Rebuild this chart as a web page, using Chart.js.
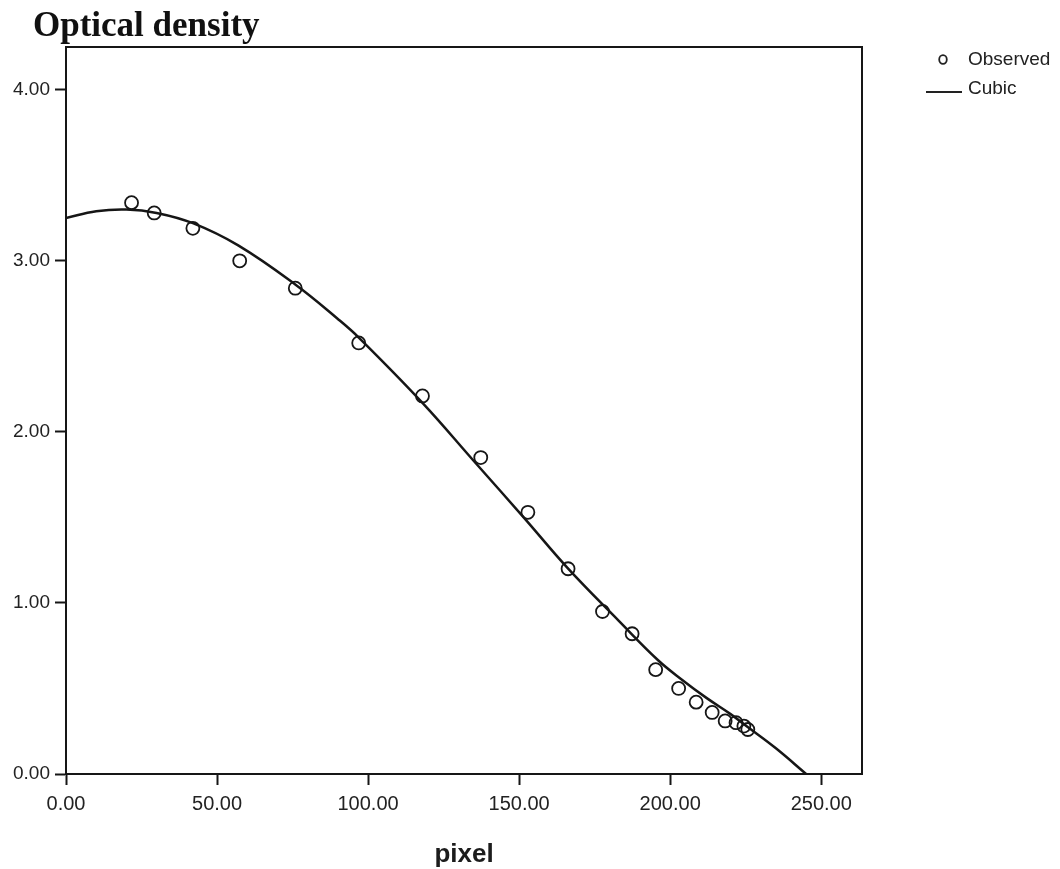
<!DOCTYPE html>
<html lang="en">
<head>
<meta charset="utf-8">
<title>Optical density</title>
<script src="https://cdn.jsdelivr.net/npm/chart.js@4.4.1/dist/chart.umd.min.js"></script>
<style>
  html, body { margin: 0; padding: 0; background: #fff; }
  #grafico-wrap { position: relative; width: 1060px; height: 869px; }
</style>
</head>
<body>
<div id="grafico-wrap"><canvas id="grafico"></canvas></div>
<script>
const pixelObservado = [21.7, 29.2, 42.0, 57.5, 75.9, 96.9, 118.0, 137.3, 152.9, 166.2,
                        177.6, 187.4, 195.2, 202.8, 208.6, 213.9, 218.2, 221.8, 224.4, 225.7];
const densidadeObservada = [3.34, 3.28, 3.19, 3.00, 2.84, 2.52, 2.21, 1.85, 1.53, 1.20,
                            0.95, 0.82, 0.61, 0.50, 0.42, 0.36, 0.31, 0.30, 0.28, 0.26];

// Curva cúbica ajustada, lida ao longo da linha desenhada
const pixelCubica = [0, 10, 20, 30, 42, 57, 76, 90, 97, 118, 135, 152, 166, 183, 196, 204, 212, 220, 226, 235, 245];
const densidadeCubica = [3.25, 3.29, 3.30, 3.28, 3.22, 3.09, 2.86, 2.66, 2.55, 2.17, 1.83, 1.49, 1.205,
                         0.895, 0.665, 0.55, 0.445, 0.35, 0.27, 0.15, 0.00];

// Marcas dos eixos
const ticksX = [0, 50, 100, 150, 200, 250];
const ticksY = [0, 1, 2, 3, 4];

const COR = "#161616";
const FONTE = '"Liberation Sans", Arial, sans-serif';

/** Moldura: fecha o topo e a direita da área do gráfico */
const moldura = {
  id: "moldura",
  afterDraw(chart) {
    const { ctx, chartArea: a } = chart;
    ctx.save();
    ctx.strokeStyle = COR;
    ctx.lineWidth = 2;
    ctx.beginPath();
    ctx.moveTo(a.left, a.top);
    ctx.lineTo(a.right, a.top);
    ctx.lineTo(a.right, a.bottom);
    ctx.stroke();
    ctx.restore();
  },
};

/** Título no canto superior esquerdo, em serifa */
const tituloTopo = {
  id: "tituloTopo",
  afterDraw(chart) {
    const ctx = chart.ctx;
    ctx.save();
    ctx.font = 'bold 35px "Liberation Serif", "Times New Roman", serif';
    ctx.fillStyle = "#111";
    ctx.textBaseline = "alphabetic";
    ctx.fillText("Optical density", 33, 36);
    ctx.restore();
  },
};

/** Legenda à direita: círculo vazio e traço */
const legendaLateral = {
  id: "legendaLateral",
  afterDraw(chart) {
    const { ctx, chartArea: a } = chart;
    const ds = chart.data.datasets;
    const x0 = a.right + 64;
    ctx.save();
    ctx.font = "19px " + FONTE;
    ctx.fillStyle = "#222";
    ctx.strokeStyle = "#222";
    ctx.textBaseline = "middle";

    ctx.lineWidth = 1.8;
    ctx.beginPath();
    ctx.ellipse(x0 + 17, 59.5, 3.8, 4.3, 0, 0, Math.PI * 2);
    ctx.stroke();
    ctx.fillText(ds[0].label, x0 + 42, 60);

    ctx.lineWidth = 2;
    ctx.beginPath();
    ctx.moveTo(x0, 92);
    ctx.lineTo(x0 + 36, 92);
    ctx.stroke();
    ctx.fillText(ds[1].label, x0 + 42, 89);
    ctx.restore();
  },
};

const observados = pixelObservado.map((x, i) => ({ x, y: densidadeObservada[i] }));
const cubica = pixelCubica.map((x, i) => ({ x, y: densidadeCubica[i] }));

new Chart(document.getElementById("grafico"), {
  type: "scatter",
  data: {
    datasets: [
      {
        label: "Observed",
        data: observados,
        pointStyle: "circle",
        pointRadius: 6.5,
        pointBorderWidth: 1.8,
        borderColor: COR,
        backgroundColor: "rgba(0,0,0,0)",
        showLine: false,
      },
      {
        label: "Cubic",
        data: cubica,
        showLine: true,
        pointRadius: 0,
        borderColor: COR,
        borderWidth: 2.5,
        tension: 0.4,
      },
    ],
  },
  options: {
    responsive: true,
    maintainAspectRatio: false,
    animation: false,
    layout: { padding: { top: 47, right: 198, bottom: 0, left: 0 } },
    plugins: {
      legend: { display: false },
      title: { display: false },
      tooltip: { enabled: false },
    },
    scales: {
      x: {
        type: "linear",
        min: 0,
        max: 263.5,
        afterBuildTicks: (s) => { s.ticks = ticksX.map((v) => ({ value: v })); },
        afterFit: (s) => { s.height = 95; },
        grid: { drawOnChartArea: false, drawTicks: true, tickLength: 11, tickWidth: 2, tickColor: COR },
        border: { display: true, color: COR, width: 2 },
        ticks: {
          color: "#222",
          font: { family: FONTE, size: 20 },
          padding: 7,
          maxRotation: 0,
          autoSkip: false,
          callback: (v) => Number(v).toFixed(2),
        },
        title: {
          display: true,
          text: "pixel",
          color: "#1c1c1c",
          font: { family: FONTE, size: 26, weight: "bold", lineHeight: 1 },
          padding: { top: 0, bottom: 1 },
        },
      },
      y: {
        type: "linear",
        min: 0,
        max: 4.25,
        afterBuildTicks: (s) => { s.ticks = ticksY.map((v) => ({ value: v })); },
        afterFit: (s) => { s.width = 66; },
        grid: { drawOnChartArea: false, drawTicks: true, tickLength: 11, tickWidth: 2, tickColor: COR },
        border: { display: true, color: COR, width: 2 },
        ticks: {
          color: "#222",
          font: { family: FONTE, size: 19 },
          padding: 5,
          autoSkip: false,
          callback: (v) => Number(v).toFixed(2),
        },
      },
    },
  },
  plugins: [moldura, tituloTopo, legendaLateral],
});
</script>
</body>
</html>
